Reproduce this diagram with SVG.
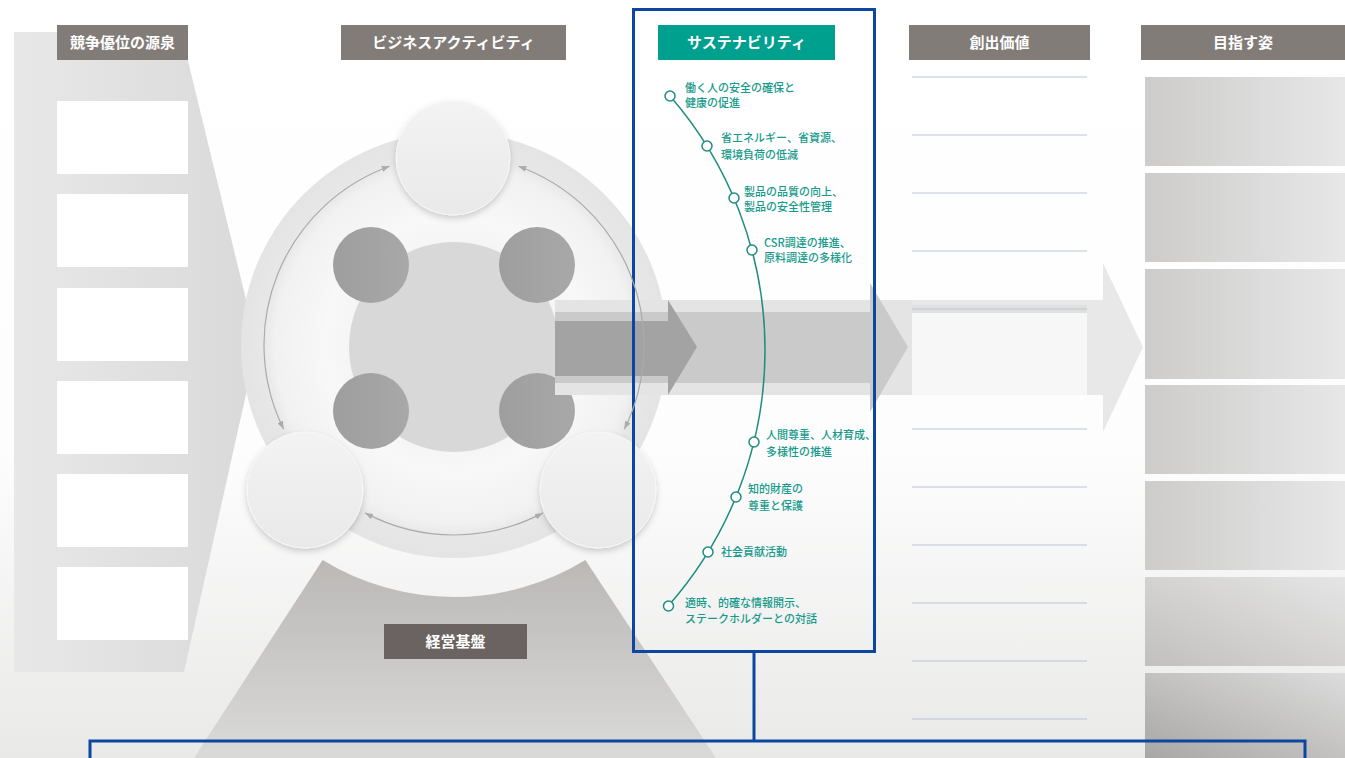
<svg xmlns="http://www.w3.org/2000/svg" width="1345" height="758" viewBox="0 0 1345 758">
<style>
.hdr{fill:#827c79}
.ht{font-family:"Noto Sans CJK JP","Noto Sans",sans-serif;font-size:15px;font-weight:bold;fill:#fff;text-anchor:middle}
.st{font-family:"Noto Sans CJK JP","Noto Sans",sans-serif;font-size:11px;font-weight:500;fill:#169a8b}
.wb{fill:#fff}
.cv{fill:#fff;stroke:#1f8c80;stroke-width:1.5}
.arc{fill:none;stroke:#ababab;stroke-width:1.2;marker-start:url(#ah);marker-end:url(#ah)}
.bl{fill:none;stroke:#0b47a0;stroke-width:3}
.vl{stroke:#b9c5da;stroke-width:1.2}
.dk{fill:url(#gDark)}
.wc{fill:url(#gWhite);stroke:#f7f7f7;stroke-width:1;filter:url(#sh)}
</style>
<defs>
<linearGradient id="gBg" x1="0" y1="0" x2="0" y2="1">
<stop offset="0" stop-color="#fff"/><stop offset="0.6" stop-color="#fdfdfd"/><stop offset="1" stop-color="#e9e9e8"/>
</linearGradient>
<linearGradient id="gLeft" x1="0" y1="0" x2="1" y2="0">
<stop offset="0" stop-color="#e8e8e8"/><stop offset="1" stop-color="#d9d9d9"/>
</linearGradient>
<linearGradient id="gTrap" x1="0" y1="0" x2="0" y2="1">
<stop offset="0" stop-color="#bbb8b6"/><stop offset="1" stop-color="#dadad9"/>
</linearGradient>
<radialGradient id="gBig" cx="454" cy="345" r="213" gradientUnits="userSpaceOnUse">
<stop offset="0" stop-color="#e9e9e9"/><stop offset="0.6" stop-color="#f8f8f8"/><stop offset="0.84" stop-color="#f1f1f1"/><stop offset="0.9" stop-color="#e7e7e7"/><stop offset="1" stop-color="#e4e4e4"/>
</radialGradient>
<linearGradient id="gWhite" x1="0" y1="0" x2="0" y2="1">
<stop offset="0" stop-color="#f3f3f3"/><stop offset="1" stop-color="#e9e9e9"/>
</linearGradient>
<linearGradient id="gDark" x1="0" y1="0" x2="1" y2="0">
<stop offset="0" stop-color="#9e9e9e"/><stop offset="1" stop-color="#a8a8a8"/>
</linearGradient>
<linearGradient id="gBox" x1="0" y1="0" x2="1" y2="0">
<stop offset="0" stop-color="#cdcccb"/><stop offset="1" stop-color="#e7e7e7"/>
</linearGradient>
<linearGradient id="gBox2" x1="0" y1="1" x2="1" y2="0">
<stop offset="0" stop-color="#c2c0be"/><stop offset="1" stop-color="#e5e5e5"/>
</linearGradient>
<linearGradient id="gBox3" x1="0" y1="1" x2="1" y2="0">
<stop offset="0" stop-color="#a9a7a5"/><stop offset="1" stop-color="#dcdcdc"/>
</linearGradient>
<filter id="sh" x="-30%" y="-30%" width="160%" height="160%">
<feDropShadow dx="0" dy="3" stdDeviation="3" flood-color="#000" flood-opacity="0.18"/>
</filter>
<marker id="ah" markerWidth="8" markerHeight="6" refX="8" refY="3" orient="auto-start-reverse" markerUnits="userSpaceOnUse">
<path d="M0,0 L8,3 L0,6 z" fill="#ababab"/>
</marker>
</defs>

<rect x="0" y="0" width="1345" height="758" fill="url(#gBg)"/>

<g id="keiei-kiban">
<path d="M322.6,560 L194,758 L716,758 L585.4,560 A252,252 0 0 1 322.6,560 Z" fill="url(#gTrap)"/>
<rect x="384" y="624" width="143" height="35" fill="#6b6361"/>
<text x="455.5" y="647" class="ht">経営基盤</text>
</g>

<g id="kyoso-yui">
<path d="M14,32 L181,32 L257,345 L184,672 L14,672 Z" fill="url(#gLeft)"/>
<rect x="57" y="25" width="131" height="35" class="hdr"/>
<text x="122.5" y="48" class="ht">競争優位の源泉</text>
<rect x="57" y="101" width="131" height="73" class="wb"/>
<rect x="57" y="194" width="131" height="73" class="wb"/>
<rect x="57" y="288" width="131" height="73" class="wb"/>
<rect x="57" y="381" width="131" height="73" class="wb"/>
<rect x="57" y="474" width="131" height="73" class="wb"/>
<rect x="57" y="567" width="131" height="73" class="wb"/>
</g>

<g id="business-activity">
<rect x="341" y="25" width="225" height="35" class="hdr"/>
<text x="453.5" y="48" class="ht">ビジネスアクティビティ</text>
<circle cx="454" cy="345" r="213" fill="url(#gBig)"/>
<circle cx="454" cy="347" r="105" fill="#d8d8d8"/>
<circle cx="371" cy="265" r="38" class="dk"/>
<circle cx="537" cy="265" r="38" class="dk"/>
<circle cx="371" cy="411" r="38" class="dk"/>
<circle cx="537" cy="411" r="38" class="dk"/>
<circle cx="453" cy="158" r="57" class="wc"/>
<circle cx="305" cy="490" r="58" class="wc"/>
<circle cx="598" cy="490" r="58" class="wc"/>
</g>

<g id="value-arrows">
<polygon points="870,300 1103,300 1103,263 1143,347 1103,432 1103,395 870,395" fill="#e8e8e8"/>
<rect x="555" y="300" width="357" height="95" fill="#e4e4e4"/>
<polygon points="555,312 870,312 870,283 908,347 870,412 870,383 555,383" fill="#cacaca"/>
<polygon points="555,321 668,321 668,300 697,347 668,395 668,376 555,376" fill="#a3a3a3"/>
</g>

<g id="sosyutsu-kachi">
<rect x="909" y="25" width="181" height="35" class="hdr"/>
<text x="999.5" y="48" class="ht">創出価値</text>
<rect x="912" y="305" width="175" height="8" fill="#e0e0e0"/>
<rect x="912" y="313" width="175" height="82" fill="#f7f7f7"/>
<line x1="912" y1="77" x2="1087" y2="77" class="vl"/>
<line x1="912" y1="135" x2="1087" y2="135" class="vl"/>
<line x1="912" y1="193" x2="1087" y2="193" class="vl"/>
<line x1="912" y1="251" x2="1087" y2="251" class="vl"/>
<line x1="912" y1="309" x2="1087" y2="309" class="vl"/>
<line x1="912" y1="429" x2="1087" y2="429" class="vl"/>
<line x1="912" y1="487" x2="1087" y2="487" class="vl"/>
<line x1="912" y1="545" x2="1087" y2="545" class="vl"/>
<line x1="912" y1="603" x2="1087" y2="603" class="vl"/>
<line x1="912" y1="661" x2="1087" y2="661" class="vl"/>
<line x1="912" y1="719" x2="1087" y2="719" class="vl"/>
</g>

<g id="mezasu-sugata">
<rect x="1141" y="25" width="204" height="35" class="hdr"/>
<text x="1243" y="48" class="ht">目指す姿</text>
<rect x="1145" y="77" width="200" height="89" fill="url(#gBox)"/>
<rect x="1145" y="173" width="200" height="89" fill="url(#gBox)"/>
<rect x="1145" y="269" width="200" height="110" fill="url(#gBox)"/>
<rect x="1145" y="385" width="200" height="89" fill="url(#gBox)"/>
<rect x="1145" y="481" width="200" height="89" fill="url(#gBox)"/>
<rect x="1145" y="577" width="200" height="89" fill="url(#gBox2)"/>
<rect x="1145" y="673" width="200" height="85" fill="url(#gBox3)"/>
</g>

<g id="sustainability">
<rect x="633.5" y="9.5" width="241" height="642" class="bl"/>
<rect x="658" y="25" width="177" height="35" fill="#00a08f"/>
<text x="746.5" y="48" class="ht">サステナビリティ</text>
<path d="M670,96 A387,387 0 0 1 668.2,606" fill="none" stroke="#1f8c80" stroke-width="1.5"/>
<circle cx="670" cy="96" r="5" class="cv"/>
<circle cx="707" cy="146" r="5" class="cv"/>
<circle cx="734" cy="198" r="5" class="cv"/>
<circle cx="752" cy="250" r="5" class="cv"/>
<circle cx="754" cy="442" r="5" class="cv"/>
<circle cx="736" cy="497" r="5" class="cv"/>
<circle cx="708" cy="552" r="5" class="cv"/>
<circle cx="668.5" cy="606" r="5" class="cv"/>
<text x="685" y="92" class="st">働く人の安全の確保と</text>
<text x="685" y="107" class="st">健康の促進</text>
<text x="721" y="142" class="st">省エネルギー、省資源、</text>
<text x="721" y="159" class="st">環境負荷の低減</text>
<text x="744" y="196" class="st">製品の品質の向上、</text>
<text x="744" y="211" class="st">製品の安全性管理</text>
<text x="764" y="247" class="st">CSR調達の推進、</text>
<text x="764" y="262" class="st">原料調達の多様化</text>
<text x="766" y="439" class="st">人間尊重、人材育成、</text>
<text x="766" y="456" class="st">多様性の推進</text>
<text x="748" y="493" class="st">知的財産の</text>
<text x="748" y="510" class="st">尊重と保護</text>
<text x="721" y="556" class="st">社会貢献活動</text>
<text x="685" y="607" class="st">適時、的確な情報開示、</text>
<text x="685" y="623" class="st">ステークホルダーとの対話</text>
</g>

<g id="connectors">
<path d="M389.6,166.2 A190,190 0 0 0 283.7,429.2" class="arc"/>
<path d="M518.4,166.2 A190,190 0 0 1 624.3,429.2" class="arc"/>
<path d="M365.1,512.9 A190,190 0 0 0 542.9,512.9" class="arc"/>
<path d="M754,652 L754,740" class="bl"/>
<path d="M90,760 L90,741 L1305,741 L1305,760" class="bl"/>
</g>
</svg>
